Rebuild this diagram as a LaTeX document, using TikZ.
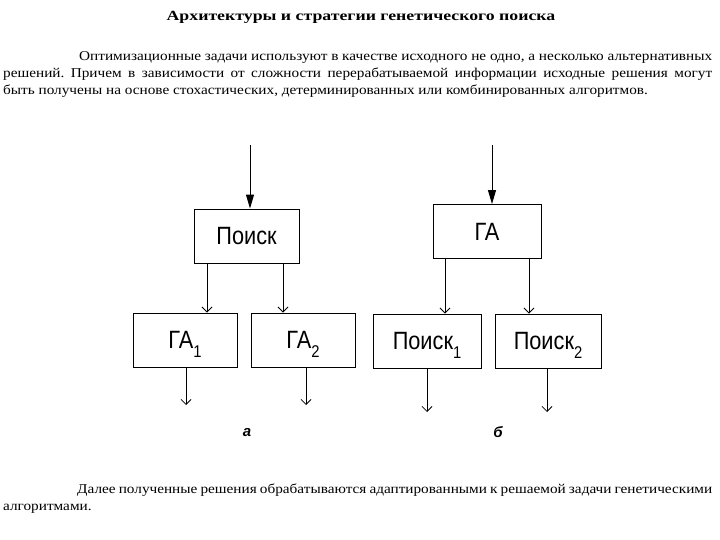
\documentclass[tikz,border=0pt]{standalone}
\usepackage{fontspec}
\setmainfont{Liberation Serif}
\newfontfamily\parafont{Liberation Serif}[FakeStretch=1.13]
\newfontfamily\titlefont{Liberation Serif}[FakeStretch=1.27]
\newfontfamily\boxfont{Liberation Sans}[FakeStretch=0.87]
\setsansfont{Liberation Sans}
\usetikzlibrary{arrows.meta}
\newcommand{\lowsub}[1]{\smash{\raisebox{-9pt}{\fontsize{17}{17}\selectfont #1}}}
\frenchspacing
\begin{document}
\begin{tikzpicture}[x=1pt,y=-1pt,
  blk/.style={draw,line width=0.9pt,minimum width=#1,minimum height=54pt,inner sep=0pt,font=\boxfont\fontsize{25}{25}\selectfont},
  blk/.default=105pt,
  inarr/.style={line width=1pt,-{Triangle[length=14pt,width=8pt]}},
  outarr/.style={line width=0.8pt,-{Straight Barb[length=5pt,width=10pt]}},
  figlabel/.style={font=\sffamily\bfseries\itshape\fontsize{15}{15}\selectfont},
  txtline/.style={anchor=base west,inner sep=0pt,font=\parafont\fontsize{13.5}{17}\selectfont}]
\useasboundingbox (0,0) rectangle (720,540);
\node[anchor=base,inner sep=0pt,font=\titlefont\bfseries\fontsize{14}{16}\selectfont] (title) at (361,21) {Архитектуры и стратегии генетического поиска};
\node[txtline] (l1) at (79,61) {\makebox[633pt][s]{Оптимизационные задачи используют в качестве исходного не одно, а несколько альтернативных}};
\node[txtline] (l2) at (3,78) {\makebox[709pt][s]{решений. Причем в зависимости от сложности перерабатываемой информации исходные решения могут}};
\node[txtline] (l3) at (3,95) {быть получены на основе стохастических, детерминированных или комбинированных алгоритмов.};
% left diagram
\coordinate (ina) at (250,145);
\node[blk] (poisk) at (246.5,236) {Поиск};
\node[blk=104pt] (ga1) at (185,340) {ГА\lowsub{1}};
\node[blk=104pt] (ga2) at (303,340) {ГА\lowsub{2}};
\coordinate (oa1) at (186,405);
\coordinate (oa2) at (306,405);
\draw[inarr] (ina) -- (poisk.north -| ina);
\draw[outarr] (poisk.south -| 207,0) -- (ga1.north -| 207,0);
\draw[outarr] (poisk.south -| 283,0) -- (ga2.north -| 283,0);
\draw[outarr] (ga1.south -| oa1) -- (oa1);
\draw[outarr] (ga2.south -| oa2) -- (oa2);
\node[figlabel] (la) at (247,433) {а};
% right diagram
\coordinate (inb) at (492,145);
\node[blk=108pt] (ga) at (487,231.5) {ГА};
\node[blk=108pt] (p1b) at (427,341) {Поиск\lowsub{1}};
\node[blk=106pt] (p2b) at (548,341) {Поиск\lowsub{2}};
\coordinate (ob1) at (427,412);
\coordinate (ob2) at (547,412);
\draw[inarr] (inb) -- (ga.north -| inb);
\draw[outarr] (ga.south -| 445,0) -- (p1b.north -| 445,0);
\draw[outarr] (ga.south -| 529,0) -- (p2b.north -| 529,0);
\draw[outarr] (p1b.south -| ob1) -- (ob1);
\draw[outarr] (p2b.south -| ob2) -- (ob2);
\node[figlabel] (lb) at (498,432) {б};
\node[txtline] (m1) at (77,493) {\makebox[635pt][s]{Далее полученные решения обрабатываются адаптированными к решаемой задачи генетическими}};
\node[txtline] (m2) at (3,510) {алгоритмами.};
\end{tikzpicture}
\end{document}
